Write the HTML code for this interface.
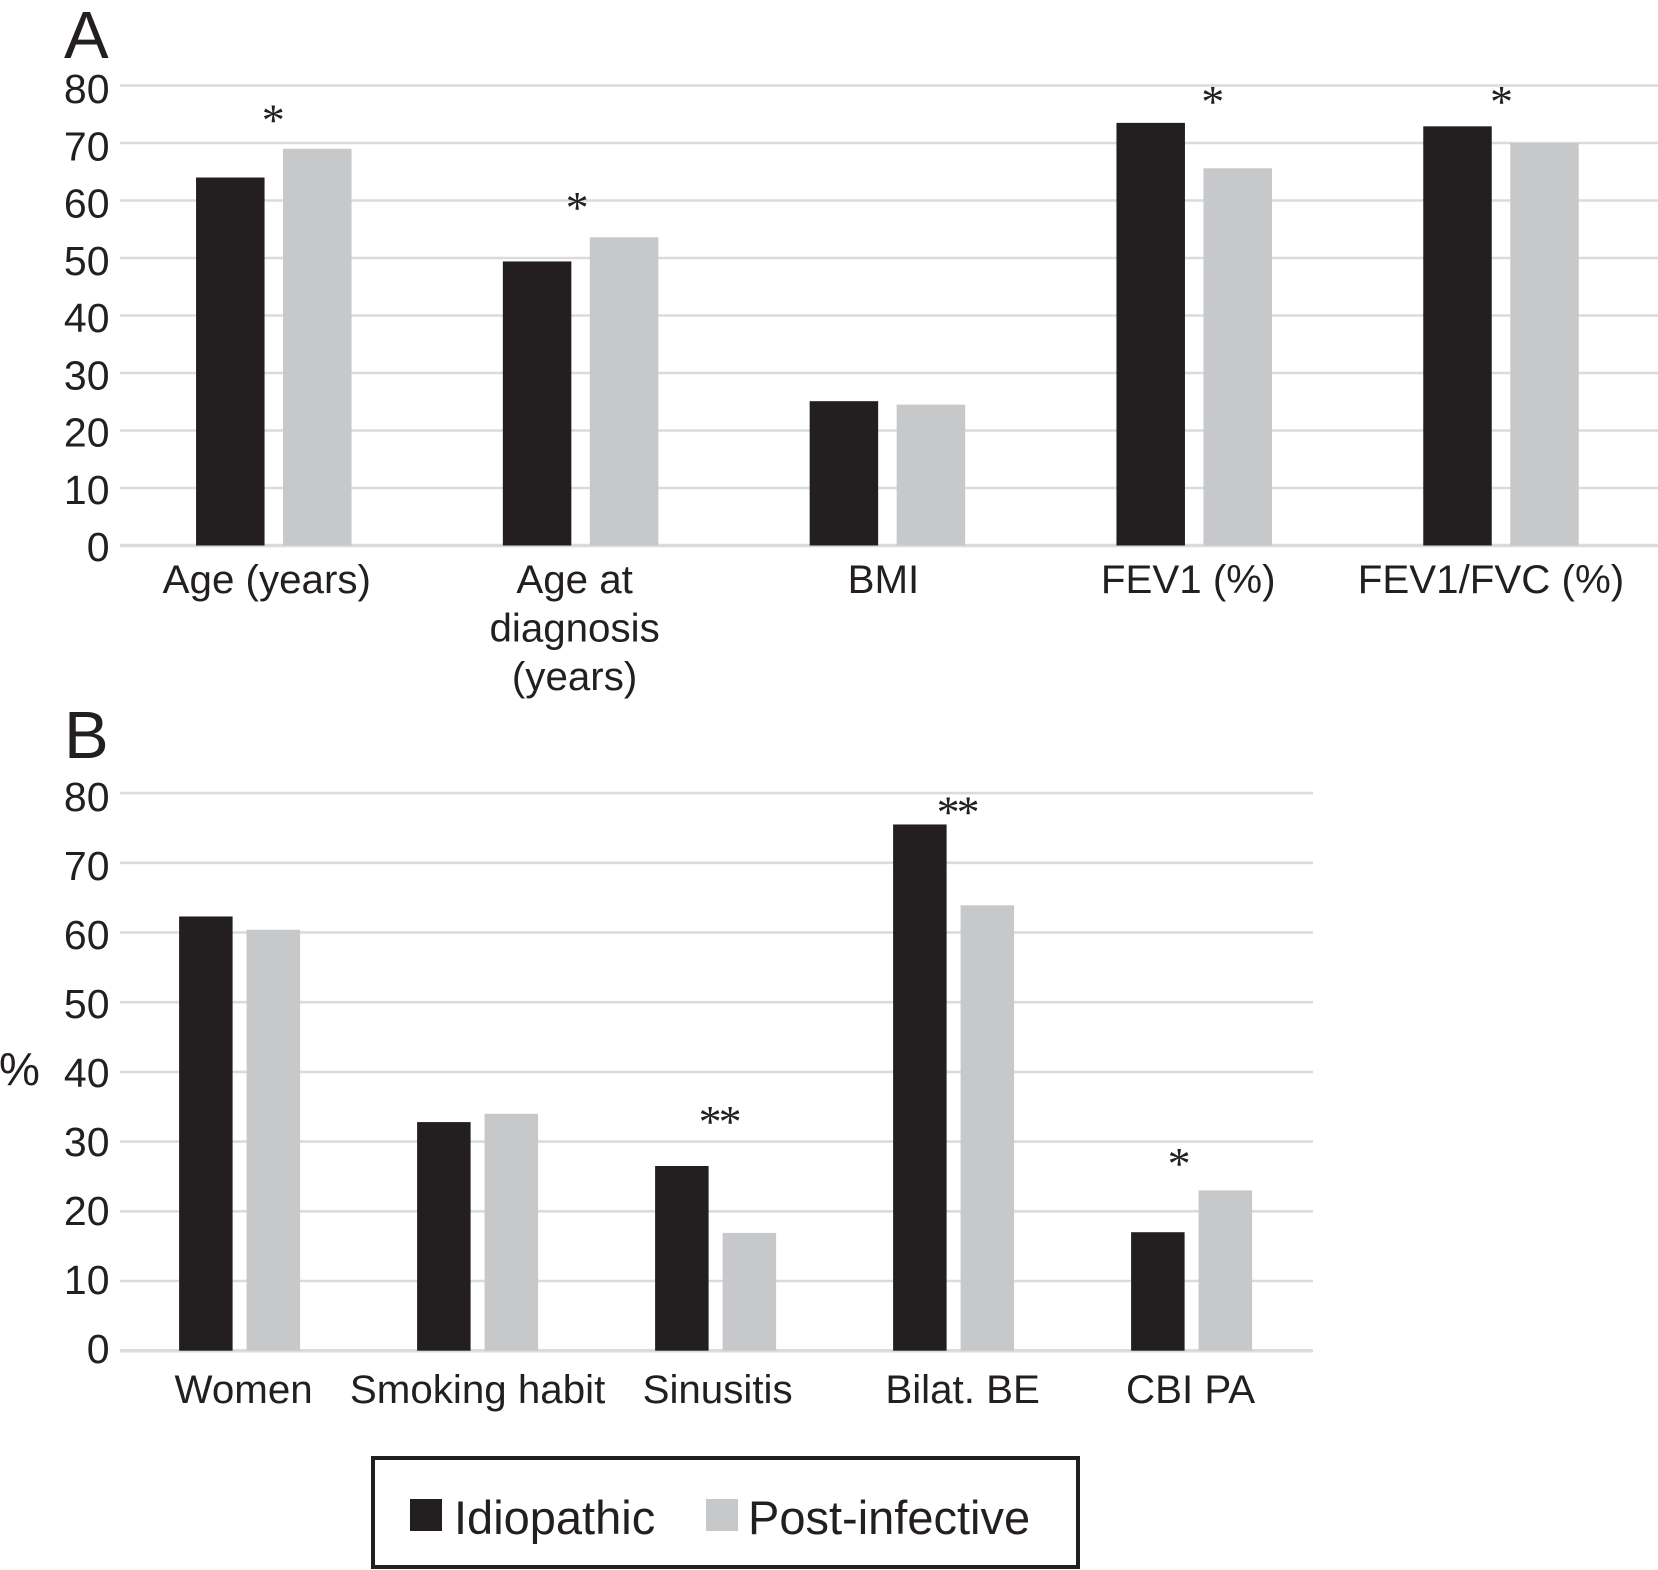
<!DOCTYPE html>
<html lang="en">
<head>
<meta charset="utf-8">
<title>Idiopathic vs post-infective bar charts</title>
<style>
  html, body { margin: 0; padding: 0; background: #fff; }
  svg { display: block; }
  text { font-family: "Liberation Sans", sans-serif; fill: #231f20; }
</style>
</head>
<body>
<svg id="chart" xmlns="http://www.w3.org/2000/svg" width="1658" height="1570" viewBox="0 0 1658 1570"></svg>
<script>
const seriesNames = ['Idiopathic', 'Post-infective'];
const tickValues = [0, 10, 20, 30, 40, 50, 60, 70, 80];

const categoriesA = [['Age (years)'], ['Age at', 'diagnosis', '(years)'], ['BMI'], ['FEV1 (%)'], ['FEV1/FVC (%)']];
const idiopathicA = [64, 49.4, 25.1, 73.5, 72.9];
const postInfectiveA = [69, 53.6, 24.5, 65.6, 70];
const significanceA = ['*', '*', '', '*', '*'];
const significanceLevelA = [74.8, 59.6, 0, 78, 78];

const categoriesB = [['Women'], ['Smoking habit'], ['Sinusitis'], ['Bilat. BE'], ['CBI PA']];
const idiopathicB = [62.3, 32.8, 26.5, 75.5, 17];
const postInfectiveB = [60.4, 34, 16.9, 63.9, 23];
const significanceB = ['', '', '**', '**', '*'];
const significanceLevelB = [0, 0, 33.5, 77.9, 27.5];

const svg = document.getElementById('chart');
const NS = 'http://www.w3.org/2000/svg';
const INK = '#231f20', GREY = '#c6c8ca', GRID = '#dadbdc';

function add(tag, attrs, name, parent) {
  const el = document.createElementNS(NS, tag);
  for (const k in attrs) el.setAttribute(k, attrs[k]);
  
  
  (parent || svg).appendChild(el);
  return el;
}
function label(str, x, y, size, anchor, name, parent) {
  const t = add('text', { x: x, y: y, 'font-size': size, 'text-anchor': anchor }, name, parent);
  t.textContent = str;
  return t;
}

function drawPanel(p) {
  const g = add('g', {}, p.id, svg);
  const y = v => p.zeroY - v * p.unitY;
  const tickBase = v => p.tickZero - v * p.tickUnit;
  const bandCenter = i => p.left + p.band * (i + 0.5);

  tickValues.forEach(v => {
    add('line', { x1: 120, x2: p.right, y1: y(v), y2: y(v), stroke: GRID, 'stroke-width': v === 0 ? 3.5 : 2.6 }, 'gridline-' + v, g);
    label(String(v), 109.5, tickBase(v), 41, 'end', 'y-tick-' + v, g);
  });

  p.categories.forEach((lines, i) => {
    const c = bandCenter(i);
    add('rect', { x: c - p.barW - p.gap / 2, y: y(p.first[i]), width: p.barW, height: y(0) - y(p.first[i]), fill: INK }, 'bar-idiopathic-' + i, g);
    add('rect', { x: c + p.gap / 2, y: y(p.second[i]), width: p.barW, height: y(0) - y(p.second[i]), fill: GREY }, 'bar-post-infective-' + i, g);
    lines.forEach((line, j) => {
      label(line, c + p.labelShift(i), p.labelY + j * 48.5, 40.3, 'middle', 'x-label-' + i + '-line-' + j, g);
    });
    if (p.sig[i]) {
      label(p.sig[i], c + p.sigShift(i), y(p.sigLevel[i]) + 20, 46, 'middle', 'significance-marker-' + i, g).setAttribute('style', 'font-family:"Liberation Serif",serif;letter-spacing:-3px');
    }
  });
}

label('A', 64, 58, 67, 'start', 'panel-a-letter');
label('B', 64, 758, 67, 'start', 'panel-b-letter');
label('%', -1, 1085, 46, 'start', 'y-axis-title');

drawPanel({
  id: 'panel-a', left: 120.4, right: 1658, band: 306.8, zeroY: 545.5, unitY: 5.75,
  tickZero: 561, tickUnit: 5.725, barW: 68.5, gap: 18.5, labelY: 593,
  categories: categoriesA, first: idiopathicA, second: postInfectiveA,
  sig: significanceA, sigLevel: significanceLevelA,
  labelShift: i => [-7, -6, -4, -6, -10][i],
  sigShift: i => [-2, -5, 0, 17, -1][i]
});
drawPanel({
  id: 'panel-b', left: 120.6, right: 1313, band: 238, zeroY: 1350.7, unitY: 6.97,
  tickZero: 1363, tickUnit: 6.9, barW: 53.5, gap: 14, labelY: 1403,
  categories: categoriesB, first: idiopathicB, second: postInfectiveB,
  sig: significanceB, sigLevel: significanceLevelB,
  labelShift: i => [4, 0, 2, 9, -1][i],
  sigShift: i => [0, 0, 3, 3, -14][i]
});

const legend = add('g', {}, 'legend', svg);
add('rect', { x: 373, y: 1458, width: 705, height: 109, fill: '#fff', stroke: INK, 'stroke-width': 4 }, 'legend-box', legend);
add('rect', { x: 410, y: 1499, width: 32, height: 32, fill: INK }, 'legend-swatch-idiopathic', legend);
add('rect', { x: 706, y: 1499, width: 32, height: 32, fill: GREY }, 'legend-swatch-post-infective', legend);
label(seriesNames[0], 454, 1534, 47, 'start', 'legend-label-idiopathic', legend);
label(seriesNames[1], 748, 1534, 47, 'start', 'legend-label-post-infective', legend);
</script>
</body>
</html>
